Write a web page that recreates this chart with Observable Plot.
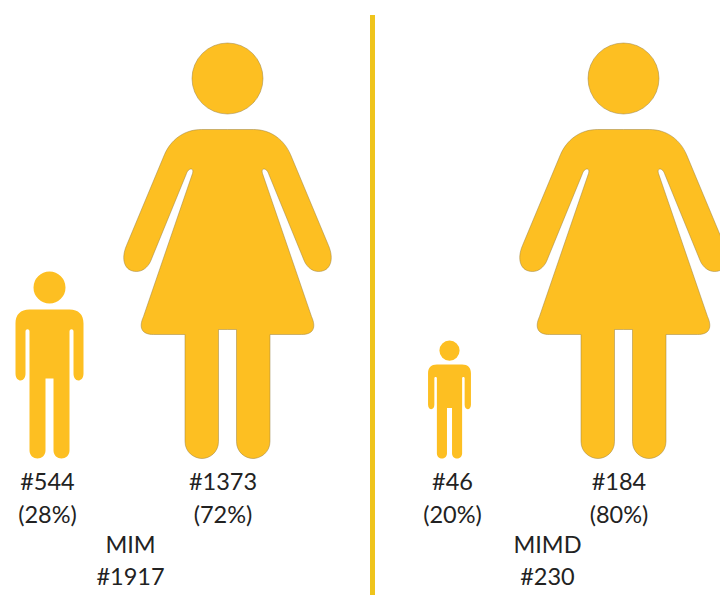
<!DOCTYPE html>
<html>
<head>
<meta charset="utf-8">
<script src="https://cdn.jsdelivr.net/npm/d3@7"></script>
<script src="https://cdn.jsdelivr.net/npm/@observablehq/plot@0.6"></script>
<style>
  html, body { margin: 0; padding: 0; background: #fff; overflow: hidden; }
  svg { display: block; }
</style>
</head>
<body>
<div id="chart"></div>
<script>
// ---- data ----
const groupNames   = ["MIM", "MIMD"];
const groupTotals  = [1917, 230];
const figureGroups = ["MIM", "MIM", "MIMD", "MIMD"];
const figureKinds  = ["child", "woman", "child", "woman"];
const counts       = [544, 1373, 46, 184];
const percents     = [28, 72, 20, 80];

const figures = counts.map((count, i) => ({
  slot: i, group: figureGroups[i], kind: figureKinds[i], count, percent: percents[i]
}));
const groups = groupNames.map((name, i) => ({ slot: 2 * i + 0.5, name, total: groupTotals[i] }));

// ---- pictogram outlines: origin at the feet, y up is negative ----
// Right half of each body; the left half is its mirror image.
function mirrorPath(ctx, start, segs, s) {
  const P = (x, y) => [x * s, y * s];
  ctx.moveTo(...P(start[0], start[1]));
  const ends = [start];
  for (const g of segs) {
    if (g.length === 2) ctx.lineTo(...P(g[0], g[1]));
    else ctx.bezierCurveTo(...P(g[0], g[1]), ...P(g[2], g[3]), ...P(g[4], g[5]));
    ends.push(g.slice(-2));
  }
  for (let i = segs.length - 1; i >= 0; i--) {
    const g = segs[i], e = ends[i];
    if (g.length === 2) ctx.lineTo(...P(-e[0], e[1]));
    else ctx.bezierCurveTo(...P(-g[2], g[3]), ...P(-g[0], g[1]), ...P(-e[0], e[1]));
  }
  ctx.closePath();
}
function pictogram(height, head, start, segs) {
  return {
    draw(ctx, size) {
      const s = Math.sqrt(size / Math.PI) / (height / 2);
      mirrorPath(ctx, start, segs, s);
      ctx.moveTo((head.r) * s, head.y * s);
      ctx.arc(0, head.y * s, head.r * s, 0, 2 * Math.PI);
      ctx.closePath();
    }
  };
}
const womanSymbol = pictogram(415.5, { y: -380, r: 35.5 }, [0, -329], [
  [26, -329],
  [44, -329, 57, -318, 63, -304],
  [101, -213],
  [107, -199, 103, -187, 91, -187],
  [85, -187, 80, -191, 77, -197],
  [41, -285],
  [39, -291, 33, -291, 35, -285],
  [84, -142],
  [89, -131, 86, -124, 74, -124],
  [42.5, -124],
  [42.5, -17],
  [42.5, -6, 33, 0, 25.5, 0],
  [18, 0, 9, -6, 9, -17],
  [9, -129],
  [0, -129]
]);
const childSymbol = pictogram(187, { y: -171, r: 16 }, [0, -149], [
  [20, -149],
  [29, -149, 34, -144, 34, -135],
  [34, -85],
  [34, -80, 31, -78, 29, -78],
  [26, -78, 24, -81, 24, -85],
  [24, -127],
  [24, -130, 20, -130, 20, -127],
  [20, -8],
  [20, -3, 16, 0, 12, 0],
  [8, 0, 4, -3, 4, -8],
  [4, -80],
  [0, -80]
]);

// ---- styling ----
const gold = "#FDBF22";
const textColor = "#222222";
const textStyle = { fill: textColor, fontFamily: "Lato", fontSize: 23.5, textAnchor: "middle", lineAnchor: "middle" };

const chart = Plot.plot({
  width: 720,
  height: 595,
  margin: 0,
  style: { background: "#fff" },
  // slots: figure i at i, its label at i + 0.1, group label at .5, divider at 1.5
  x: {
    axis: null, type: "linear",
    domain: [0, 0.1, 0.5, 1, 1.1, 1.5, 2, 2.1, 2.5, 3, 3.1],
    range:  [49, 47, 130, 227, 222.5, 372, 449, 452, 547, 623, 618.5]
  },
  // rows: divider top, feet, count, percent, group name, group total, bottom
  y: {
    axis: null, type: "linear",
    domain: [-1, 0, 1, 2, 3, 4, 5],
    range:  [15, 458, 482, 514.5, 545, 577, 595]
  },
  // half-height of each figure, keyed on its percentage
  r: { type: "linear", domain: [20, 28, 72, 80], range: [59, 93.5, 207.75, 207.75] },
  marks: [
    Plot.ruleX([1.5], { y1: () => -1, y2: () => 5, stroke: "#EFC41C", strokeWidth: 5 }),
    Plot.dot(figures.filter(d => d.kind === "child"), {
      x: "slot", y: () => 0, r: "percent", symbol: childSymbol, fill: gold, stroke: "none"
    }),
    Plot.dot(figures.filter(d => d.kind === "woman"), {
      x: "slot", y: () => 0, r: "percent", symbol: womanSymbol, fill: gold,
      stroke: "#9a8040", strokeWidth: 0.5
    }),
    Plot.text(figures, { x: d => d.slot + 0.1, y: () => 1, text: d => `#${d.count}`, ...textStyle }),
    Plot.text(figures, { x: d => d.slot + 0.1, y: () => 2, text: d => `(${d.percent}%)`, ...textStyle }),
    Plot.text(groups, { x: "slot", y: () => 3, text: "name", ...textStyle }),
    Plot.text(groups, { x: "slot", y: () => 4, text: d => `#${d.total}`, ...textStyle })
  ]
});
document.getElementById("chart").appendChild(chart);
</script>
</body>
</html>
